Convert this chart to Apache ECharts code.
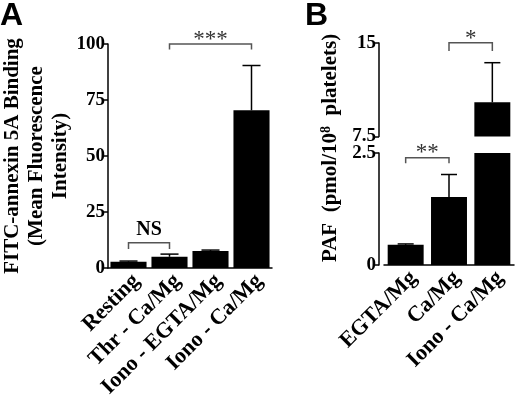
<!DOCTYPE html>
<html>
<head>
<meta charset="utf-8">
<script src="https://cdn.jsdelivr.net/npm/echarts@6/dist/echarts.min.js"></script>
<style>
html, body { margin: 0; padding: 0; background: #fff; }
#chart { width: 520px; height: 396px; }
</style>
</head>
<body>
<div id="chart"></div>
<script>
"use strict"

// panel A: FITC-annexin 5A binding
const catsA = ["Resting", "Thr - Ca/Mg", "Iono - EGTA/Mg", "Iono - Ca/Mg"];
const meanA = [2.8, 5.0, 7.6, 70.4];
const errTopA = [3.1, 6.2, 8.0, 90.4];
// [from cat, to cat, bracket top, bracket foot, label]
const sigA = [[0, 1, 11.3, 8.5, "NS"], [1, 3, 100, 97.6, "***"]];

// panel B: PAF, broken axis
const catsB = ["EGTA/Mg", "Ca/Mg", "Iono - Ca/Mg"];
const meanB = [0.45, 1.52, 10.24];
const errTopB = [0.47, 2.02, 13.42];
const sigBLow = [[0, 1, 2.395, 2.27, "**"]];
const sigBHigh = [[1, 2, 15.02, 14.36, "*"]];

const serif = "Liberation Serif";
const tickFont = { fontFamily: serif, fontWeight: "bold", fontSize: 19, color: "#000" };
const lineStyle = { color: "#000", width: 1.5 };

function errItem(capRatio)
{
    return (params, api) =>
    {
        const x = api.value(0);
        const base = api.coord([x, api.value(1)]), top = api.coord([x, api.value(2)]);
        const half = api.size([1, 0])[0] * capRatio;
        const st = { stroke: "#000", lineWidth: 1.5 };
        return {
            type: "group", children: [
                { type: "line", shape: { x1: base[0], y1: base[1], x2: top[0], y2: top[1] }, style: st },
                { type: "line", shape: { x1: top[0] - half, y1: top[1], x2: top[0] + half, y2: top[1] }, style: st }
            ]
        };
    };
}

function bracketItem(list, textDy)
{
    return (params, api) =>
    {
        const d = list[params.dataIndex];
        const a = api.coord([d[0], d[2]]), b = api.coord([d[1], d[2]]);
        const foot = api.coord([d[0], d[3]])[1];
        const label = d[4];
        const isStar = label.indexOf("*") >= 0;
        return {
            type: "group", children: [
                {
                    type: "polyline",
                    shape: { points: [[a[0], foot], [a[0], a[1]], [b[0], b[1]], [b[0], foot]] },
                    style: { stroke: "#555", lineWidth: 1.5, fill: null }
                },
                {
                    type: "text", x: (a[0] + b[0]) / 2, y: a[1] + (isStar ? textDy : -3),
                    style: {
                        text: label, fontFamily: serif, fontWeight: isStar ? "normal" : "bold",
                        fontSize: isStar ? 23 : 20, fill: isStar ? "#333" : "#000",
                        align: "center", verticalAlign: "bottom"
                    }
                }
            ]
        };
    };
}

const myChart = echarts.init(document.getElementById("chart"), null, { renderer: "canvas" });

const catAxis = (cats, grid) => ({
    type: "category", data: cats, gridIndex: grid,
    axisLine: { lineStyle: lineStyle },
    axisTick: { show: false },
    axisLabel: Object.assign({ rotate: 45, margin: 2, interval: 0, verticalAlign: "top" }, tickFont, { fontSize: 22 })
});

const option = {
    animation: false,
    grid: [
        { left: 108, right: 248, top: 44, bottom: 128, outerBoundsMode: "none" },
        { left: 384, right: 6, top: 43, bottom: 259.5, outerBoundsMode: "none" },
        { left: 384, right: 6, top: 153, bottom: 131, outerBoundsMode: "none" }
    ],
    xAxis: [
        catAxis(catsA, 0),
        Object.assign(catAxis(catsB, 1), { show: false }),
        catAxis(catsB, 2)
    ],
    yAxis: [
        {
            type: "value", gridIndex: 0, min: 0, max: 100, interval: 25,
            splitLine: { show: false },
            axisLine: { show: true, lineStyle: lineStyle },
            axisTick: { show: true, length: 5, lineStyle: lineStyle },
            axisLabel: Object.assign({ margin: 3 }, tickFont),
            name: "FITC-annexin 5A Binding\n(Mean Fluorescence\nIntensity)",
            nameLocation: "middle", nameRotate: 90, nameGap: 30,
            nameTextStyle: { fontFamily: serif, fontWeight: "bold", fontSize: 21, lineHeight: 24, color: "#000", align: "center" }
        },
        {
            type: "value", gridIndex: 1, min: 7.5, max: 15, interval: 7.5, offset: 5,
            splitLine: { show: false },
            axisLine: { show: true, lineStyle: lineStyle },
            axisTick: { show: true, length: 5, lineStyle: lineStyle },
            axisLabel: Object.assign({ margin: 3 }, tickFont)
        },
        {
            type: "value", gridIndex: 2, min: 0, max: 2.5, interval: 2.5, offset: 5,
            splitLine: { show: false },
            axisLine: { show: true, lineStyle: lineStyle },
            axisTick: { show: true, length: 5, lineStyle: lineStyle },
            axisLabel: Object.assign({ margin: 3 }, tickFont)
        }
    ],
    series: [
        { type: "bar", xAxisIndex: 0, yAxisIndex: 0, data: meanA, barCategoryGap: "12%", itemStyle: { color: "#000" } },
        {
            type: "custom", xAxisIndex: 0, yAxisIndex: 0, renderItem: errItem(0.22), z: 3,
            data: meanA.map((v, i) => [i, v, errTopA[i]])
        },
        {
            type: "custom", xAxisIndex: 0, yAxisIndex: 0, renderItem: bracketItem(sigA, 7), clip: false,
            data: sigA.map(d => [d[0], d[2]])
        },

        {
            type: "bar", xAxisIndex: 1, yAxisIndex: 1, barCategoryGap: "17%", itemStyle: { color: "#000" },
            data: meanB.map(v => v >= 7.5 ? v : "-")
        },
        {
            type: "custom", xAxisIndex: 1, yAxisIndex: 1, renderItem: errItem(0.185), z: 3,
            data: meanB.map((v, i) => [i, v, errTopB[i]]).filter(d => d[1] >= 7.5)
        },
        {
            type: "custom", xAxisIndex: 1, yAxisIndex: 1, renderItem: bracketItem(sigBHigh, 8), clip: false,
            data: sigBHigh.map(d => [d[0], d[2]])
        },

        {
            type: "bar", xAxisIndex: 2, yAxisIndex: 2, barCategoryGap: "17%", itemStyle: { color: "#000" },
            data: meanB, clip: true
        },
        {
            type: "custom", xAxisIndex: 2, yAxisIndex: 2, renderItem: errItem(0.185), z: 3,
            data: meanB.map((v, i) => [i, v, errTopB[i]]).filter(d => d[2] <= 2.5)
        },
        {
            type: "custom", xAxisIndex: 2, yAxisIndex: 2, renderItem: bracketItem(sigBLow, 7), clip: false,
            data: sigBLow.map(d => [d[0], d[2]])
        }
    ],
    graphic: [
        { type: "text", left: 0, top: 0, style: { text: "A", fontFamily: "Liberation Sans", fontWeight: "bold", fontSize: 32, fill: "#000" } },
        { type: "text", left: 305, top: 0, style: { text: "B", fontFamily: "Liberation Sans", fontWeight: "bold", fontSize: 32, fill: "#000" } },
        {
            type: "text", x: 331, y: 148, rotation: Math.PI / 2,
            style: {
                text: "PAF  (pmol/10{sup|8}  platelets)", fontFamily: serif, fontWeight: "bold", fontSize: 21,
                fill: "#000", align: "center", verticalAlign: "middle",
                rich: { sup: { fontFamily: serif, fontWeight: "bold", fontSize: 14, verticalAlign: "top", padding: [0, 0, 10, 0] } }
            }
        }
    ]
};
myChart.setOption(option);
</script>
</body>
</html>
